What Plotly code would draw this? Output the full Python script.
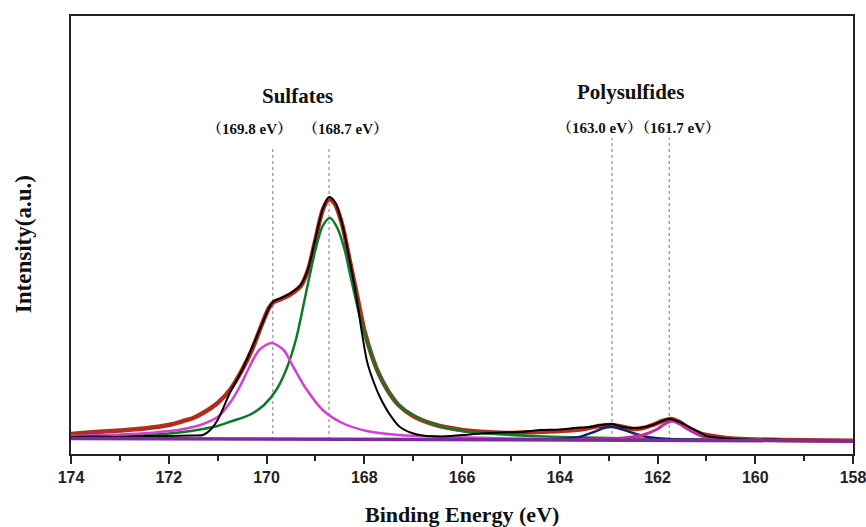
import plotly.graph_objects as go

# ---------------- data (arbitrary units) ----------------
env_E = [174.0, 173.5, 173.0, 172.5, 172.0, 171.7, 171.5, 171.3, 171.0, 170.75, 170.5, 170.3,
         170.1, 169.95, 169.85, 169.7, 169.5, 169.3, 169.15, 169.0, 168.85, 168.72, 168.6,
         168.45, 168.3, 168.15, 168.0, 167.85, 167.7, 167.5, 167.3, 167.0, 166.6, 166.0,
         165.5, 165.0, 164.5, 164.0, 163.5, 163.2, 162.93, 162.7, 162.5, 162.3, 162.1, 161.9,
         161.72, 161.55, 161.4, 161.15, 161.0, 160.6, 160.3, 160.0, 159.0, 158.0]
env_I = [16, 18, 19.5, 21.5, 25, 29, 32, 37, 47, 60, 80, 100,
         125, 142, 148, 151, 156, 164, 180, 210, 240, 251, 246,
         225, 190, 155, 120, 95, 76, 58, 45, 34, 26, 20,
         18, 17, 18, 19, 21, 24, 25, 23, 21, 22, 25, 29,
         31, 28, 23, 17, 15, 12, 11, 10.5, 9.8, 9.3]

raw_E = [174.0, 173.5, 173.0, 172.5, 172.0, 171.5, 171.3, 171.15, 171.0, 170.75, 170.5, 170.3,
         170.1, 169.95, 169.85, 169.7, 169.5, 169.3, 169.15, 169.0, 168.85, 168.72, 168.6,
         168.45, 168.3, 168.15, 168.05, 167.94, 167.8, 167.68, 167.47, 167.27, 166.92, 166.45,
         166.0, 165.6, 165.2, 164.8, 164.4, 164.0, 163.7, 163.4, 163.15, 162.93, 162.7, 162.5,
         162.3, 162.1, 161.9, 161.75, 161.55, 161.35, 161.15, 161.0, 160.7, 160.4, 160.0,
         159.6, 159.2, 158.8, 158.4, 158.0]
raw_I = [13, 13.5, 13, 14, 14, 14.5, 15, 20, 30, 57, 80, 102,
         125, 142, 149, 152, 157, 165, 181, 211, 241, 253, 248,
         226, 190, 150, 118, 88, 67, 53, 35, 23, 15.5, 13.5,
         15, 16.5, 17.5, 18, 20, 20.5, 22, 23, 25, 26, 23, 22,
         22.5, 25, 29, 31, 28, 23, 18, 14, 12, 11, 10,
         10.5, 9.5, 10, 9.2, 9]

s1_E = [174.0, 173.0, 172.4, 171.7, 171.3, 171.0, 170.7, 170.35, 170.05, 169.8, 169.6, 169.4,
        169.2, 169.0, 168.85, 168.7, 168.55, 168.4, 168.3, 168.1, 167.9, 167.7, 167.5, 167.3,
        167.0, 166.6, 166.0, 165.0, 164.0, 163.0, 162.0, 160.0, 158.0]
s1_I = [13, 14, 15, 18, 21, 24, 29, 35, 45, 60, 80, 110,
        155, 200, 224, 232, 222, 200, 178, 135, 102, 76, 58, 45,
        35, 26, 19, 15, 13, 12, 11, 10, 9.5]

s2_E = [174.0, 173.0, 172.4, 172.0, 171.8, 171.5, 171.35, 171.0, 170.75, 170.55, 170.35, 170.15,
        169.9, 169.65, 169.45, 169.2, 168.85, 168.45, 167.95, 167.3, 166.3, 165.0, 164.0,
        162.0, 160.0, 158.0]
s2_I = [14, 15.5, 17, 19, 20, 23, 25, 33, 47, 63, 83, 100,
        107, 100, 83, 62, 40, 27, 19, 15, 13, 11.5, 11,
        10, 9.5, 9.2]

p1_E = [166.0, 165.0, 164.0, 163.6, 163.3, 163.1, 162.93, 162.75, 162.5, 162.2, 161.8, 161.0,
        160.0, 158.0]
p1_I = [10.3, 10.5, 11, 13, 18, 22, 23, 21, 17, 13, 11, 10, 9.5, 9.2]

p2_E = [163.5, 162.7, 162.3, 162.0, 161.85, 161.7, 161.55, 161.35, 161.1, 160.8, 160.3, 159.0,
        158.0]
p2_I = [10.5, 12, 15, 21, 26, 29, 26, 20, 14, 11.5, 10, 9.5, 9.2]

base_E = [174, 170, 166, 162, 158]
base_I = [11.5, 10.9, 10.3, 9.7, 9.1]

peak_lines = [169.87, 168.72, 162.93, 161.76]
peak_line_top = [303, 303, 312, 312]
peak_labels = ["（169.8 eV）", "（168.7 eV）", "（163.0 eV）", "（161.7 eV）"]
peak_label_E = [170.34, 168.39, 163.19, 161.59]
group_labels = ["Sulfates", "Polysulfides"]
group_label_E = [169.36, 162.56]

x_ticks = [174, 172, 170, 168, 166, 164, 162, 160, 158]

# ---------------- figure ----------------
fig = go.Figure()

def add(E, I, color, width, opacity=1.0):
    fig.add_trace(go.Scatter(x=E, y=I, mode="lines", line=dict(color=color, width=width,
                             shape="spline", smoothing=0.8), opacity=opacity,
                             hoverinfo="skip", showlegend=False))

add(env_E, env_I, "#b02e1e", 4.5)
add(s1_E, s1_I, "#10782a", 2.5)
add(s2_E, s2_I, "#d23fd2", 2.5)
add(p1_E, p1_I, "#1c1c6e", 2.5)
add(p2_E, p2_I, "#c0309a", 3)
add(raw_E, raw_I, "#000000", 2)
fig.add_trace(go.Scatter(x=base_E, y=base_I, mode="lines",
                         line=dict(color="#7a2c9c", width=3.5), hoverinfo="skip", showlegend=False))

for e, top in zip(peak_lines, peak_line_top):
    fig.add_shape(type="line", xref="x", yref="y", x0=e, x1=e, y0=10, y1=top,
                  line=dict(color="#777777", width=1, dash="dot"), layer="below")

serif = "Liberation Serif, Times New Roman, serif"
for txt, e, yv in zip(peak_labels, peak_label_E, [321, 321, 322, 322]):
    fig.add_annotation(x=e, y=yv, xref="x", yref="y", text=txt, showarrow=False,
                       font=dict(family="Liberation Serif, Noto Serif CJK SC, Noto Sans CJK SC",
                                 size=15, color="#111111", weight="bold"))
for txt, e, yv in zip(group_labels, group_label_E, [354, 358]):
    fig.add_annotation(x=e, y=yv, xref="x", yref="y", text=txt, showarrow=False,
                       font=dict(family=serif, size=21, color="#111111", weight="bold"))

fig.add_annotation(x=0.5, y=-0.139, xref="paper", yref="paper", text="Binding Energy (eV)",
                   showarrow=False, yanchor="middle",
                   font=dict(family=serif, size=22, color="#111111", weight="bold"))
fig.add_annotation(x=-0.0614, y=0.479, xref="paper", yref="paper", text="Intensity(a.u.)",
                   showarrow=False, textangle=-90, xanchor="center", yanchor="middle",
                   font=dict(family=serif, size=23, color="#111111", weight="bold"))

fig.update_layout(
    width=866, height=527,
    margin=dict(l=71, r=13, t=16, b=73, autoexpand=False),
    paper_bgcolor="white", plot_bgcolor="white",
    xaxis=dict(range=[174, 158], tickvals=x_ticks, ticks="outside", ticklen=8, tickwidth=2,
               tickcolor="#222222", showline=True, linewidth=2, linecolor="#222222", mirror=True,
               showgrid=False, zeroline=False, ticklabeloverflow="allow", automargin=False,
               minor=dict(dtick=1, ticks="outside", ticklen=5, tickwidth=2, tickcolor="#222222"),
               tickfont=dict(family="Liberation Sans, Arial, sans-serif", size=16,
                             color="#222222", weight="bold")),
    yaxis=dict(range=[-4, 434], showticklabels=False, ticks="", showline=True, linewidth=2,
               linecolor="#222222", mirror=True, showgrid=False, zeroline=False, automargin=False),
)

# remove the default page margin so the 866x527 figure fills the window exactly
fig.write_html("out.html", config={"displayModeBar": False},
               post_script="document.body.style.margin='0px';")
